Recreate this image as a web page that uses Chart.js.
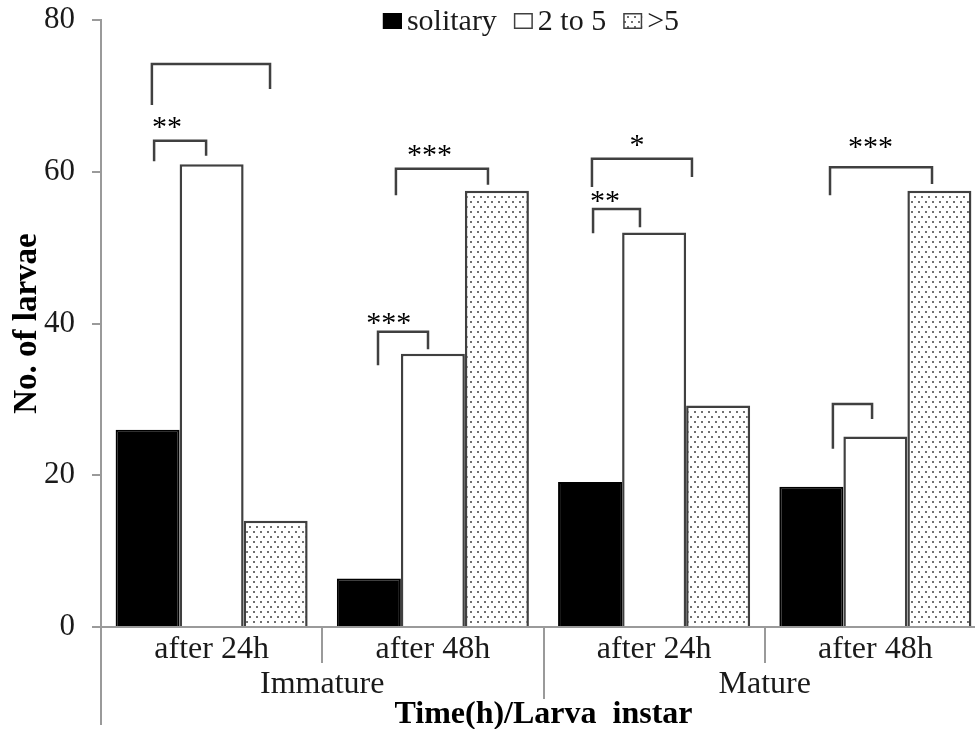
<!DOCTYPE html>
<html>
<head>
<meta charset="utf-8">
<title>No. of larvae</title>
<script src="https://cdn.jsdelivr.net/npm/chart.js@4.4.1/dist/chart.umd.min.js"></script>
<style>
  html, body { margin: 0; padding: 0; background: #fff; overflow: hidden; }
  #wrap { width: 975px; height: 729px; overflow: hidden; }
</style>
</head>
<body>
<div id="wrap"><canvas id="chart" width="988" height="729"></canvas></div>
<script>
const categories = ['after 24h', 'after 48h', 'after 24h', 'after 48h'];
const stages = ['Immature', 'Mature'];
const seriesNames = ['solitary', '2 to 5', '>5'];
const solitary = [26, 6.4, 19.1, 18.5];
const twoToFive = [61, 36, 52, 25.1];
const overFive = [14, 57.5, 29.2, 57.5];
const yTicks = [0, 20, 40, 60, 80];

// significance brackets: x start, x end (category units), top, left leg end, right leg end
const brackets = [
  [-0.27, 0.264, 74.2, 68.8, 70.9],
  [-0.26, -0.025, 64.1, 61.4, 62.1],
  [0.752, 0.978, 38.9, 34.5, 36.6],
  [0.833, 1.249, 60.4, 56.9, 58.3],
  [1.719, 2.171, 61.7, 58.0, 59.3],
  [1.724, 1.936, 55.1, 51.9, 52.7],
  [2.795, 3.256, 60.6, 56.9, 58.4],
  [2.808, 2.985, 29.4, 23.5, 27.4]
];
// star labels: x centre, y centre, text
const stars = [
  [-0.202, 66.6, '**'],
  [0.80, 40.7, '***'],
  [0.985, 62.9, '***'],
  [1.923, 64.2, '*'],
  [1.778, 56.8, '**'],
  [2.978, 63.9, '***']
];

const SERIF = '"Liberation Serif", "Times New Roman", serif';
const ink = '#1a1a1a';
const axisGrey = '#9a9a9a';
const lineGrey = '#404040';

function dotPattern() {
  const c = document.createElement('canvas');
  c.width = 7; c.height = 10;
  const g = c.getContext('2d');
  g.fillStyle = '#fff';
  g.fillRect(0, 0, 7, 10);
  g.fillStyle = '#707070';
  g.fillRect(1, 1, 2, 2);
  g.fillRect(4, 6, 2, 2);
  return g.createPattern(c, 'repeat');
}
const dots = dotPattern();

const extras = {
  id: 'extras',
  afterDraw(chart) {
    const ctx = chart.ctx;
    const x = chart.scales.x;
    const y = chart.scales.y;
    const area = chart.chartArea;
    ctx.save();

    // category separators and y axis extension
    ctx.strokeStyle = axisGrey;
    ctx.lineWidth = 2;
    for (let i = 0; i < categories.length - 1; i++) {
      const px = Math.round(x.getPixelForValue(i + 0.5));
      ctx.beginPath();
      ctx.moveTo(px, area.bottom);
      ctx.lineTo(px, area.bottom + (i === 1 ? 72 : 36));
      ctx.stroke();
    }
    ctx.beginPath();
    ctx.moveTo(area.left, area.bottom);
    ctx.lineTo(area.left, area.bottom + 98);
    ctx.stroke();

    // stage labels
    ctx.fillStyle = ink;
    ctx.font = '32px ' + SERIF;
    ctx.textAlign = 'center';
    ctx.textBaseline = 'middle';
    stages.forEach((s, i) => {
      ctx.fillText(s, x.getPixelForValue(i * 2 + 0.5), area.bottom + 58);
    });

    // brackets
    ctx.strokeStyle = lineGrey;
    ctx.lineWidth = 2.5;
    ctx.lineJoin = 'miter';
    brackets.forEach(b => {
      const x1 = x.getPixelForValue(b[0]);
      const x2 = x.getPixelForValue(b[1]);
      ctx.beginPath();
      ctx.moveTo(x1, y.getPixelForValue(b[3]));
      ctx.lineTo(x1, y.getPixelForValue(b[2]));
      ctx.lineTo(x2, y.getPixelForValue(b[2]));
      ctx.lineTo(x2, y.getPixelForValue(b[4]));
      ctx.stroke();
    });

    ctx.fillStyle = '#000';
    ctx.font = '30px ' + SERIF;
    ctx.textBaseline = 'alphabetic';
    stars.forEach(s => {
      ctx.fillText(s[2], x.getPixelForValue(s[0]), y.getPixelForValue(s[1]) + 14);
    });

    // legend
    ctx.font = '30px ' + SERIF;
    ctx.textAlign = 'left';
    const widths = chart.data.datasets.map(d => ctx.measureText(d.label).width);
    const total = widths.reduce((a, w) => a + 19 + 5 + w, 0) + 17 * 2;
    let lx = 531 - total / 2;
    chart.data.datasets.forEach((d, i) => {
      ctx.fillStyle = d.backgroundColor;
      ctx.fillRect(lx, 13, 19, 16);
      ctx.strokeStyle = d.borderColor;
      ctx.lineWidth = 1.5;
      ctx.strokeRect(lx + 0.75, 13.75, 17.5, 14.5);
      ctx.fillStyle = ink;
      ctx.fillText(d.label, lx + 24, 30);
      lx += 19 + 5 + widths[i] + 17;
    });
    ctx.restore();
  }
};

new Chart(document.getElementById('chart'), {
  type: 'bar',
  data: {
    labels: categories,
    datasets: [
      { label: seriesNames[0], data: solitary, backgroundColor: '#000', borderColor: '#000', borderWidth: 2 },
      { label: seriesNames[1], data: twoToFive, backgroundColor: '#fff', borderColor: lineGrey, borderWidth: 2.5 },
      { label: seriesNames[2], data: overFive, backgroundColor: dots, borderColor: lineGrey, borderWidth: 2.5 }
    ]
  },
  options: {
    responsive: false,
    animation: false,
    devicePixelRatio: 1,
    categoryPercentage: 0.868,
    barPercentage: 1,
    layout: { padding: { top: 20, right: 2, left: 0, bottom: 0 } },
    plugins: { legend: { display: false }, tooltip: { enabled: false } },
    scales: {
      x: {
        grid: { display: false },
        border: { color: axisGrey, width: 2 },
        ticks: { font: { family: SERIF, size: 32 }, color: ink, padding: -5, maxRotation: 0 },
        title: {
          display: true,
          text: 'Time(h)/Larva  instar',
          font: { family: SERIF, size: 32, weight: 'bold', lineHeight: 0.9 },
          color: '#000',
          padding: { top: 0, bottom: 0 }
        },
        afterFit: s => { s.height = 102; s.paddingLeft = 0; s.paddingRight = 0; }
      },
      y: {
        min: 0,
        max: 80,
        afterBuildTicks: s => { s.ticks = yTicks.map(v => ({ value: v })); },
        grid: { drawOnChartArea: false, tickLength: 9, color: axisGrey, lineWidth: 2 },
        border: { color: axisGrey, width: 2 },
        ticks: { font: { family: SERIF, size: 31 }, color: ink, padding: 17 },
        title: {
          display: true,
          text: 'No. of larvae',
          font: { family: SERIF, size: 33, weight: 'bold' },
          color: '#000',
          padding: { top: 8, bottom: 0 }
        },
        afterFit: s => { s.width = 101; s.paddingTop = 0; s.paddingBottom = 0; }
      }
    }
  },
  plugins: [extras]
});
</script>
</body>
</html>
